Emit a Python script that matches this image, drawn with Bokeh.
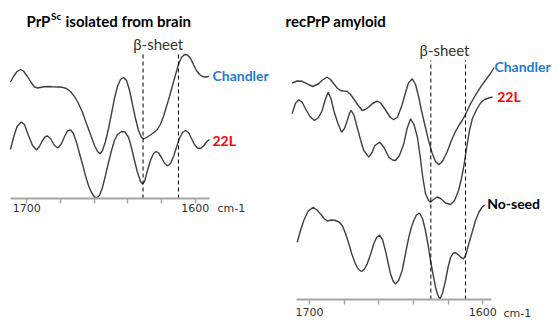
from bokeh.plotting import figure
from bokeh.models import Range1d, Label, FixedTicker, LinearAxis
from bokeh.layouts import row
from bokeh.embed import file_html
from bokeh.resources import INLINE

# ---------------- data (wavenumber cm-1, second-derivative a.u.) ----------------
brain_chandler_wn = [1709.7, 1707.9, 1705.8, 1703.7, 1702.0, 1699.6, 1697.2, 1695.4, 1693.6, 1690.7,
                     1687.7, 1684.7, 1681.8, 1678.8, 1676.4, 1674.1, 1671.7, 1669.3, 1666.9, 1664.6,
                     1662.2, 1659.8, 1658.0, 1656.6, 1655.1, 1653.3, 1651.5, 1649.7, 1648.0, 1646.2,
                     1644.4, 1642.6, 1640.8, 1639.0, 1637.3, 1635.5, 1633.7, 1631.9, 1630.7, 1629.0,
                     1626.6, 1624.2, 1622.4, 1620.6, 1618.9, 1617.1, 1615.3, 1613.5, 1611.7, 1610.0,
                     1608.2, 1606.4, 1604.6, 1602.8, 1601.1, 1599.3, 1597.5, 1595.7, 1593.9, 1591.9]
brain_chandler_y = [116.5, 122, 127, 129, 127.5, 122, 115.5, 111.5, 110.5, 111.5,
                    112, 111.7, 111.5, 111.2, 110, 107, 102, 95, 86, 75,
                    64, 53, 47, 44.7, 48, 57, 70, 85, 100, 112,
                    119, 121, 118, 108, 94, 80, 68, 61, 59.5, 61,
                    63.5, 66.5, 69.5, 74.5, 82, 92, 102, 113, 124, 134,
                    141, 144, 143.5, 140, 134, 128, 124, 122, 121.5, 122]

brain_22l_wn = [1709.7, 1707.9, 1705.8, 1703.3, 1701.4, 1699.0, 1696.6, 1694.2, 1692.5, 1690.7,
                1688.9, 1687.7, 1685.9, 1683.6, 1681.5, 1679.4, 1677.6, 1675.8, 1674.1, 1672.3,
                1670.5, 1668.7, 1666.9, 1665.2, 1663.4, 1661.6, 1659.8, 1658.6, 1656.9, 1655.1,
                1653.3, 1651.5, 1649.7, 1648.0, 1646.2, 1643.8, 1641.7, 1639.6, 1637.9, 1636.1,
                1634.3, 1632.5, 1631.3, 1630.1, 1628.4, 1626.6, 1624.8, 1623.3, 1621.8, 1620.1,
                1618.3, 1616.5, 1614.7, 1612.9, 1611.2, 1609.4, 1607.6, 1605.8, 1604.0, 1602.3,
                1600.5, 1598.7, 1596.9, 1595.1, 1593.4, 1591.6]
brain_22l_y = [49, 61, 72, 76.5, 74, 63, 53, 48.5, 52, 58,
               62, 62.5, 60, 53, 50.5, 55, 62, 67.5, 68.7, 65,
               56, 45, 34, 23, 13, 6, 1.5, 0.5, 3, 11,
               23, 36, 48, 58, 64, 67, 66.5, 61, 51, 38,
               26, 17, 14.5, 17, 28, 38, 45, 47, 45.5, 41,
               35.5, 32.5, 35, 42, 51, 60, 66, 68, 66, 60,
               54, 50.5, 50, 52.5, 56.5, 59]

rec_chandler_wn = [1710.0, 1707.1, 1704.2, 1701.3, 1698.1, 1694.6, 1692.5, 1689.8, 1687.9, 1686.0,
                   1683.8, 1682.1, 1680.4, 1678.2, 1676.3, 1674.4, 1672.3, 1669.6, 1667.7, 1665.8,
                   1663.6, 1660.9, 1659.0, 1657.1, 1655.2, 1653.3, 1651.4, 1649.2, 1646.5, 1644.6,
                   1642.9, 1640.7, 1638.8, 1636.9, 1635.4, 1633.1, 1631.3, 1629.2, 1627.3, 1625.4,
                   1623.3, 1620.5, 1618.1, 1615.8, 1614.0, 1611.9, 1610.0, 1607.1, 1604.2, 1601.3,
                   1598.4, 1595.6, 1593.5]
rec_chandler_y = [216.5, 218.5, 218.2, 215.7, 213, 216, 219.5, 222.3, 220, 215.7,
                  211, 209, 208.5, 208, 205, 200.5, 195, 189, 190, 192.5,
                  196, 198.3, 196.5, 192, 187, 182, 179.7, 182.5, 195, 207,
                  216.5, 220.7, 215, 202, 189, 172, 159, 146, 138, 134.7,
                  138, 148, 159, 168, 173.5, 179, 185, 195.7, 204.5, 212.3,
                  219.5, 226, 232]

rec_22l_wn = [1710.0, 1708.1, 1706.2, 1704.3, 1702.3, 1699.7, 1697.1, 1694.8, 1692.7, 1690.9,
              1689.2, 1687.6, 1686.0, 1683.8, 1681.5, 1679.8, 1678.2, 1676.9, 1675.9, 1674.3,
              1672.5, 1670.6, 1668.7, 1665.8, 1663.9, 1662.3, 1659.4, 1657.0, 1654.2, 1652.1,
              1650.4, 1648.1, 1645.6, 1643.7, 1641.7, 1639.7, 1637.7, 1636.0, 1634.8, 1633.1,
              1631.3, 1630.2, 1628.5, 1626.3, 1624.4, 1621.5, 1618.6, 1616.3, 1614.0, 1612.3,
              1610.9, 1609.4, 1607.7, 1606.0, 1603.6, 1601.3, 1599.0, 1596.7, 1594.4]
rec_22l_y = [185.7, 196.3, 199.7, 197.5, 190.7, 183, 179, 182, 189, 200,
             207.3, 201, 189, 177, 167.3, 171, 179, 186.5, 189, 184,
             172.3, 160, 149, 142.3, 147, 154, 157.3, 152, 142.3, 139.5,
             139, 144, 155.7, 171, 180.7, 175, 162, 141, 124, 106,
             99, 97.3, 100, 102.5, 101, 96.5, 95, 99, 109, 121,
             134, 151, 169, 181, 190, 196.5, 200, 201.5, 202.5]

rec_noseed_wn = [1707.1, 1705.2, 1703.3, 1700.9, 1697.9, 1695.7, 1693.7, 1691.6, 1689.8, 1687.3,
                 1685.0, 1683.0, 1681.1, 1679.2, 1677.3, 1675.5, 1673.5, 1671.7, 1670.0, 1668.3,
                 1666.7, 1664.8, 1662.9, 1661.3, 1659.6, 1657.9, 1656.2, 1654.7, 1653.3, 1651.8,
                 1650.4, 1648.6, 1646.5, 1644.6, 1642.7, 1641.1, 1639.8, 1638.3, 1636.5, 1634.8,
                 1633.1, 1631.6, 1630.2, 1628.7, 1627.3, 1626.1, 1624.8, 1623.3, 1621.5, 1620.1,
                 1618.6, 1617.2, 1615.8, 1614.0, 1612.6, 1611.1, 1609.7, 1608.1, 1606.2, 1604.2,
                 1602.2, 1600.4, 1599.0]
rec_noseed_y = [57.3, 69, 79, 88, 92.3, 89.5, 85.7, 81, 78.5, 79.5,
                79, 77.5, 74, 66, 55.7, 45, 35.7, 30, 28, 30.5,
                35.7, 45, 55.7, 62, 64.5, 60, 49, 37, 26, 18.5,
                15.5, 19, 29, 46, 62.3, 73, 79, 84.5, 86.3, 81,
                69, 55, 39, 25, 12.3, 5, 0.5, 6, 19, 32,
                42, 46, 47, 44.5, 42, 40.7, 45, 55.7, 67, 79,
                87.5, 92.3, 94.5]

beta_left = [1631, 1610]
beta_right = [1630, 1610]
tick_values = [1700, 1680, 1660, 1640, 1620, 1600]
tick_labels = {1700: "1700", 1680: "", 1660: "", 1640: "", 1620: "", 1600: "1600"}

# ---------------- styling ----------------
CURVE = "#404040"
AXIS = "#A6A6A6"
BLUE = "#1F7BD0"
RED = "#FF0000"
FONT = "Lato"
TICKFONT = "DejaVu Sans"


def make_fig(w, h, xr, yr, bounds, standoff):
    p = figure(frame_width=w, frame_height=h, min_border=0,
               x_range=Range1d(*xr), y_range=Range1d(*yr),
               x_axis_location=None, y_axis_location=None,
               output_backend="svg", toolbar_location=None)
    p.grid.visible = False
    p.outline_line_color = None
    p.background_fill_color = "white"
    p.border_fill_color = "white"
    ax = LinearAxis(fixed_location=0, bounds=bounds)
    ax.ticker = FixedTicker(ticks=tick_values)
    ax.major_label_overrides = tick_labels
    ax.axis_line_color = AXIS
    ax.axis_line_width = 2
    ax.major_tick_line_color = AXIS
    ax.major_tick_line_width = 1.5
    ax.major_tick_in = 0
    ax.major_tick_out = 5
    ax.minor_tick_line_color = None
    ax.major_label_standoff = standoff
    ax.major_label_text_font = TICKFONT
    ax.major_label_text_font_size = "11px"
    ax.major_label_text_color = "#333333"
    p.add_layout(ax, "below")
    return p


def lab(p, x, y, text, size="14px", color="black", bold=True, font=FONT, align="left"):
    p.add_layout(Label(x=x, y=y, text=text, text_font=font, text_font_size=size,
                       text_color=color, text_font_style="bold" if bold else "normal",
                       text_align=align, text_baseline="middle"))


# ---------------- left panel ----------------
p1 = make_fig(278, 320, (1715.61, 1550.62), (-122, 198), (1709.7, 1591.6), 0)
p1.line(brain_chandler_wn, brain_chandler_y, line_color=CURVE, line_width=1.4)
p1.line(brain_22l_wn, brain_22l_y, line_color=CURVE, line_width=1.4)
p1.segment(x0=beta_left, y0=[0] * len(beta_left), x1=beta_left, y1=[145] * len(beta_left),
           line_color="black", line_width=1, line_dash="4 3")
lab(p1, 1700.2, 178, "PrP", size="15px")
lab(p1, 1685.6, 183, "Sc", size="10px")
lab(p1, 1677.0, 178, "isolated from brain", size="15px")
lab(p1, 1622.0, 155, "β-sheet", size="15px", color="#333333", bold=False, align="center")
lab(p1, 1589.8, 123, "Chandler", color=BLUE)
lab(p1, 1589.8, 58, "22L", color=RED)
lab(p1, 1586.8, -10, "cm-1", size="11px", color="#333333", bold=False, font=TICKFONT)

# ---------------- right panel ----------------
p2 = make_fig(281, 320, (1717.89, 1555.75), (-21, 299), (1707.5, 1595.0), 3)
p2.line(rec_chandler_wn, rec_chandler_y, line_color=CURVE, line_width=1.4)
p2.line(rec_22l_wn, rec_22l_y, line_color=CURVE, line_width=1.4)
p2.line(rec_noseed_wn, rec_noseed_y, line_color=CURVE, line_width=1.4)
p2.segment(x0=beta_right, y0=[0] * len(beta_right), x1=beta_right, y1=[239] * len(beta_right),
           line_color="black", line_width=1, line_dash="4 3")
lab(p2, 1713.8, 279, "recPrP amyloid", size="15px")
lab(p2, 1622.1, 250, "β-sheet", size="15px", color="#333333", bold=False, align="center")
lab(p2, 1593.3, 233, "Chandler", color=BLUE)
lab(p2, 1591.7, 203, "22L", color=RED)
lab(p2, 1597.5, 96, "No-seed")
lab(p2, 1588.1, -14, "cm-1", size="11px", color="#333333", bold=False, font=TICKFONT)

layout = row(p1, p2)
open("out.html", "w").write(file_html(layout, INLINE))
